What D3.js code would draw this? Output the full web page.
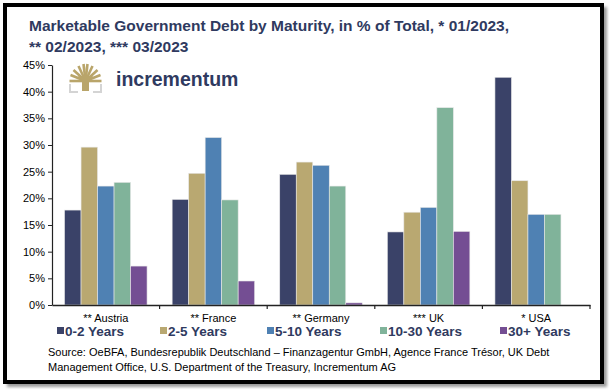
<!DOCTYPE html>
<html>
<head>
<meta charset="utf-8">
<script src="https://cdn.jsdelivr.net/npm/d3@7"></script>
<style>
  body { margin: 0; background: #fff; }
  svg { display: block; font-family: "Liberation Sans", Arial, sans-serif; }
</style>
</head>
<body>
<svg id="chart"></svg>
<script>
var width = 610;
var height = 392;

var margin = {
  top: 65,
  left: 52,
  right: 20,
  bottom: 87
};

// data
var countries = ["** Austria", "** France", "** Germany", "*** UK", "* USA"];
var series = ["0-2 Years", "2-5 Years", "5-10 Years", "10-30 Years", "30+ Years"];
var y0to2   = [17.8, 19.8, 24.5, 13.7, 42.7];
var y2to5   = [29.6, 24.7, 26.8, 17.4, 23.3];
var y5to10  = [22.3, 31.4, 26.2, 18.3, 17.0];
var y10to30 = [23.0, 19.7, 22.3, 37.0, 17.0];
var y30plus = [7.3, 4.5, 0.4, 13.8, 0];
var yTicks = [0, 5, 10, 15, 20, 25, 30, 35, 40, 45];

var colors = ["#3a4268", "#b9a871", "#4f81b3", "#80b39a", "#744e93"];
var values = [y0to2, y2to5, y5to10, y10to30, y30plus];

var svg = d3.select("#chart").attr("width", width).attr("height", height);

// frame + shadow
var defs = svg.append("defs");
defs.append("filter").attr("id", "blur")
  .append("feGaussianBlur").attr("stdDeviation", 1.5);
svg.append("rect")
  .attr("x", 7).attr("y", 7).attr("width", 600).attr("height", 380)
  .attr("fill", "#9a9a9a").attr("filter", "url(#blur)");
svg.append("rect")
  .attr("x", 5).attr("y", 5).attr("width", 597).attr("height", 377)
  .attr("fill", "#fff").attr("stroke", "#000").attr("stroke-width", 4);

// title
var title = svg.append("text")
  .attr("fill", "#2f3a60")
  .attr("font-size", 15.5)
  .attr("font-weight", "bold");
title.append("tspan").attr("x", 29).attr("y", 31)
  .text("Marketable Government Debt by Maturity, in % of Total, * 01/2023,");
title.append("tspan").attr("x", 29).attr("y", 52)
  .text("** 02/2023, *** 03/2023");

var xScale = d3.scaleBand()
  .domain(countries)
  .range([margin.left, width - margin.right])
  .padding(0);

var xInner = d3.scaleBand()
  .domain(series)
  .range([0, xScale.bandwidth()])
  .paddingInner(0)
  .paddingOuter(0.76);

var yScale = d3.scaleLinear()
  .domain([0, 45])
  .range([height - margin.bottom, margin.top]);

// logo
var logo = svg.append("g").attr("transform", "translate(69,64)");
var branches = [[-16, -2], [-15, -8], [-12, -13], [-7, -17], [-2, -19], [2, -19], [7, -17], [12, -13], [15, -8], [16, -2]];
branches.forEach(function(b) {
  logo.append("line")
    .attr("x1", 16.5).attr("y1", 17)
    .attr("x2", 16.5 + b[0]).attr("y2", 19 + b[1])
    .attr("stroke", "#b9a56a").attr("stroke-width", 2.6);
});
logo.append("path")
  .attr("d", "M13,27 L13,17 L9,12 L24,12 L20,17 L20,27 Z")
  .attr("fill", "#b9a56a");
logo.append("path")
  .attr("d", "M1,20 L1,28 L9,28 M24,28 L32,28 L32,20")
  .attr("fill", "none").attr("stroke", "#d4d4d4").attr("stroke-width", 2);
svg.append("text")
  .attr("x", 116).attr("y", 86)
  .attr("fill", "#2f3a60")
  .attr("font-size", 19.5)
  .attr("font-weight", "bold")
  .text("incrementum");

// bars
var groups = svg.selectAll("g.country")
  .data(countries)
  .enter()
  .append("g")
  .attr("class", "country")
  .attr("transform", function(d) { return `translate(${xScale(d)},0)`; });

groups.selectAll("rect")
  .data(function(d, i) {
    return series.map(function(s, j) { return {s: s, v: values[j][i], c: colors[j]}; });
  })
  .enter()
  .append("rect")
  .attr("x", function(d) { return xInner(d.s); })
  .attr("y", function(d) { return yScale(d.v); })
  .attr("width", xInner.bandwidth())
  .attr("height", function(d) { return yScale(0) - yScale(d.v); })
  .attr("fill", function(d) { return d.c; })
  .attr("stroke", function(d) { return d.v > 0 ? "#e8e8e8" : "none"; })
  .attr("stroke-width", 0.6);

// y axis
var yAxis = svg.append("g")
  .attr("transform", `translate(${margin.left},0)`)
  .call(d3.axisLeft(yScale)
    .tickValues(yTicks)
    .tickSize(4)
    .tickSizeOuter(0)
    .tickPadding(3)
    .tickFormat(function(d) { return d + "%"; }));
yAxis.selectAll("text").attr("font-size", 11).attr("fill", "#000")
  .attr("font-family", "Liberation Sans, Arial, sans-serif");
yAxis.selectAll("line").attr("stroke", "#222");
yAxis.select(".domain").attr("stroke", "#222").attr("stroke-width", 1.2);

// x axis
var xAxis = svg.append("g")
  .attr("transform", `translate(0,${yScale(0)})`)
  .call(d3.axisBottom(xScale).tickSize(0).tickSizeOuter(0).tickPadding(9));
xAxis.selectAll("text").attr("font-size", 11).attr("fill", "#000")
  .attr("font-family", "Liberation Sans, Arial, sans-serif");
xAxis.select(".domain").attr("stroke", "#222").attr("stroke-width", 1.5);
xAxis.selectAll("line.sep")
  .data(countries)
  .enter()
  .append("line")
  .attr("class", "sep")
  .attr("x1", function(d) { return xScale(d) + xScale.bandwidth(); })
  .attr("x2", function(d) { return xScale(d) + xScale.bandwidth(); })
  .attr("y1", 0).attr("y2", 4)
  .attr("stroke", "#222").attr("stroke-width", 1.2);

// legend
var legendX = [57, 160, 267, 380, 500];
var legend = svg.selectAll("g.legend")
  .data(series)
  .enter()
  .append("g")
  .attr("class", "legend")
  .attr("transform", function(d, i) { return `translate(${legendX[i]},331)`; });
legend.append("rect")
  .attr("x", 0).attr("y", -4).attr("width", 7).attr("height", 7)
  .attr("fill", function(d, i) { return colors[i]; });
legend.append("text")
  .attr("x", 8).attr("y", 5)
  .attr("font-size", 13.5).attr("font-weight", "bold").attr("fill", "#2f3a60")
  .text(function(d) { return d; });

// source
var src = svg.append("text")
  .attr("font-size", 11).attr("fill", "#000");
src.append("tspan").attr("x", 48).attr("y", 356)
  .text("Source: OeBFA, Bundesrepublik Deutschland \u2013 Finanzagentur GmbH, Agence France Tr\u00e9sor, UK Debt");
src.append("tspan").attr("x", 48).attr("y", 371)
  .text("Management Office, U.S. Department of the Treasury, Incrementum AG");
</script>
</body>
</html>
